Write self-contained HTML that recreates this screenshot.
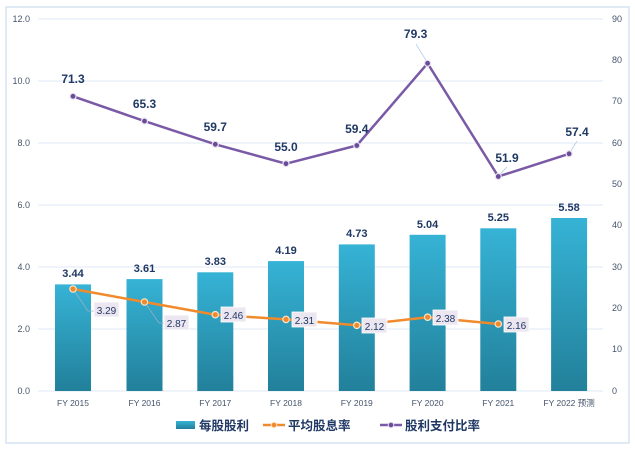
<!DOCTYPE html>
<html><head><meta charset="utf-8"><style>
body{margin:0;background:#fff}
svg{display:block;font-family:"Liberation Sans","Noto Sans CJK SC",sans-serif}
</style></head><body>
<svg width="635" height="451" viewBox="0 0 635 451">
<defs>
<linearGradient id="bg" x1="0" y1="0" x2="0" y2="1">
<stop offset="0" stop-color="#36b3d6"/><stop offset="1" stop-color="#22809a"/>
</linearGradient>
</defs>
<rect x="6" y="7" width="623" height="436" fill="#fff" stroke="#d5e3f2" stroke-width="1.5"/>
<g stroke="#dce8f4" stroke-width="1">
<line x1="38" y1="19" x2="603" y2="19"/><line x1="38" y1="81" x2="603" y2="81"/>
<line x1="38" y1="143" x2="603" y2="143"/><line x1="38" y1="205" x2="603" y2="205"/>
<line x1="38" y1="267" x2="603" y2="267"/><line x1="38" y1="329" x2="603" y2="329"/>
<line x1="38" y1="391" x2="603" y2="391"/>
</g>
<g font-size="9" fill="#44546a" text-anchor="end">
<text x="30" y="22">12.0</text><text x="30" y="84">10.0</text><text x="30" y="146">8.0</text>
<text x="30" y="208">6.0</text><text x="30" y="270">4.0</text><text x="30" y="332">2.0</text><text x="30" y="394">0.0</text>
</g>
<g font-size="9" fill="#44546a">
<text x="612" y="22">90</text><text x="612" y="63">80</text><text x="612" y="104">70</text>
<text x="612" y="146">60</text><text x="612" y="187">50</text><text x="612" y="228">40</text>
<text x="612" y="270">30</text><text x="612" y="311">20</text><text x="612" y="352">10</text><text x="612" y="394">0</text>
</g>
<g fill="url(#bg)">
<rect x="55" y="284.4" width="36" height="106.6"/>
<rect x="126.5" y="279.1" width="36" height="111.9"/>
<rect x="197.3" y="272.3" width="36" height="118.7"/>
<rect x="268" y="261.1" width="36" height="129.9"/>
<rect x="338.8" y="244.4" width="36" height="146.6"/>
<rect x="409.6" y="234.8" width="36" height="156.2"/>
<rect x="480.3" y="228.3" width="36" height="162.7"/>
<rect x="551.1" y="218" width="36" height="173"/>
</g>
<g font-size="11" font-weight="bold" fill="#1f3864" text-anchor="middle">
<text x="73" y="277">3.44</text><text x="144.5" y="272">3.61</text><text x="215.3" y="265">3.83</text>
<text x="286" y="254">4.19</text><text x="356.8" y="237">4.73</text><text x="427.6" y="228">5.04</text>
<text x="498.3" y="221">5.25</text><text x="569.1" y="211">5.58</text>
</g>
<g font-size="8.5" fill="#44546a" text-anchor="middle">
<text x="73" y="406">FY 2015</text><text x="144.5" y="406">FY 2016</text><text x="215.3" y="406">FY 2017</text>
<text x="286" y="406">FY 2018</text><text x="356.8" y="406">FY 2019</text><text x="427.6" y="406">FY 2020</text>
<text x="498.3" y="406">FY 2021</text><text x="569.1" y="406">FY 2022 预测</text>
</g>
<!-- yield line -->
<g stroke="#9bb0c8" stroke-width="0.7" fill="none">
<polyline points="73,289 88,311 95,311"/><polyline points="144.5,302 159,323 165,323"/>
</g>
<polyline points="73,289 144.5,302 215.3,314.7 286,319.4 356.8,325.3 427.6,317.2 498.3,324" fill="none" stroke="#f08a2c" stroke-width="2.5"/>
<g fill="#f08a2c" stroke="#fde5cc" stroke-width="1.2">
<circle cx="73" cy="289" r="3.2"/><circle cx="144.5" cy="302" r="3.2"/><circle cx="215.3" cy="314.7" r="3.2"/>
<circle cx="286" cy="319.4" r="3.2"/><circle cx="356.8" cy="325.3" r="3.2"/><circle cx="427.6" cy="317.2" r="3.2"/><circle cx="498.3" cy="324" r="3.2"/>
</g>
<g fill="#ebe6f0" stroke="#fff" stroke-width="0.8">
<rect x="94" y="302" width="25" height="15"/><rect x="164" y="315" width="25" height="15"/>
<rect x="221" y="307" width="25" height="15"/><rect x="292" y="312" width="25" height="15"/>
<rect x="362" y="318" width="25" height="15"/><rect x="433" y="310" width="25" height="15"/><rect x="504" y="317" width="25" height="15"/>
</g>
<g font-size="10" fill="#1f3864" text-anchor="middle">
<text x="106.5" y="314">3.29</text><text x="176.5" y="327">2.87</text><text x="233.5" y="319">2.46</text>
<text x="304.5" y="324">2.31</text><text x="374.5" y="330">2.12</text><text x="445.5" y="322">2.38</text><text x="516.5" y="329">2.16</text>
</g>
<!-- payout line -->
<g stroke="#9fc4e8" stroke-width="0.7">
<line x1="427.6" y1="63" x2="416" y2="44"/><line x1="498.3" y1="176" x2="507" y2="167"/><line x1="569.1" y1="153.8" x2="577" y2="141"/>
</g>
<polyline points="73,96.3 144.5,121.1 215.3,144.3 286,163.7 356.8,145.5 427.6,63.3 498.3,176.5 569.1,153.8" fill="none" stroke="#7a5aa6" stroke-width="2.5"/>
<g fill="#6a4a9a" stroke="#e8e2ee" stroke-width="1.2">
<circle cx="73" cy="96.3" r="3"/><circle cx="144.5" cy="121.1" r="3"/><circle cx="215.3" cy="144.3" r="3"/>
<circle cx="286" cy="163.7" r="3"/><circle cx="356.8" cy="145.5" r="3"/><circle cx="427.6" cy="63.3" r="3"/>
<circle cx="498.3" cy="176.5" r="3"/><circle cx="569.1" cy="153.8" r="3"/>
</g>
<g font-size="12" font-weight="bold" fill="#1f3864" text-anchor="middle">
<text x="73" y="83">71.3</text><text x="144.5" y="108">65.3</text><text x="215.3" y="131">59.7</text>
<text x="286" y="151">55.0</text><text x="356.8" y="133">59.4</text><text x="415.6" y="38">79.3</text>
<text x="507" y="162">51.9</text><text x="577" y="136">57.4</text>
</g>
<!-- legend -->
<rect x="176" y="421" width="19" height="8" fill="url(#bg)"/>
<text x="199" y="430" font-size="12.5" font-weight="bold" fill="#1f3864">每股股利</text>
<line x1="263" y1="425" x2="285" y2="425" stroke="#f08a2c" stroke-width="2.5"/>
<circle cx="274" cy="425" r="2.8" fill="#f08a2c" stroke="#fde5cc"/>
<text x="288" y="430" font-size="12.5" font-weight="bold" fill="#1f3864">平均股息率</text>
<line x1="380" y1="425" x2="402" y2="425" stroke="#7a5aa6" stroke-width="2.5"/>
<circle cx="391" cy="425" r="2.8" fill="#6a4a9a" stroke="#e8e2ee"/>
<text x="405" y="430" font-size="12.5" font-weight="bold" fill="#1f3864">股利支付比率</text>
</svg>
</body></html>
